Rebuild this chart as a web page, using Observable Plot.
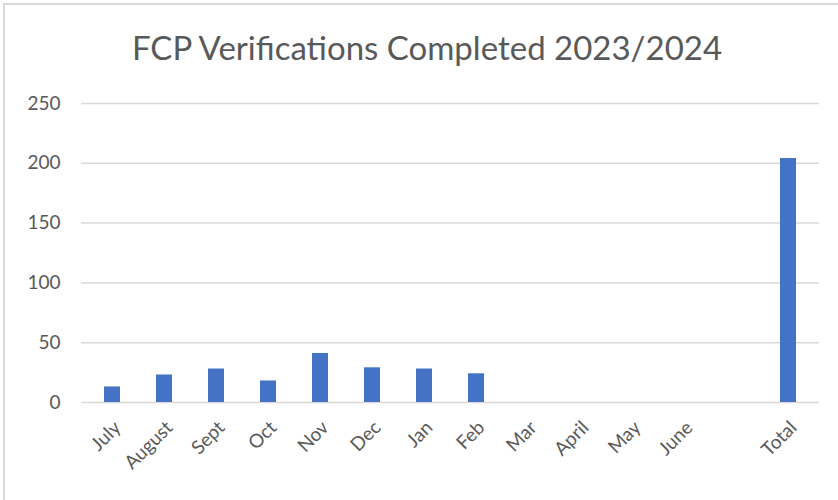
<!DOCTYPE html>
<html>
<head>
<meta charset="utf-8">
<script src="https://cdn.jsdelivr.net/npm/d3@7"></script>
<script src="https://cdn.jsdelivr.net/npm/@observablehq/plot@0.6"></script>
<style>
  html, body { margin: 0; padding: 0; background: #fff; }
  #wrap { position: relative; width: 838px; height: 500px; overflow: hidden; font-family: Lato, "Open Sans", sans-serif; }
  #frame { position: absolute; left: 3px; top: 3px; width: 840px; height: 500px; border-top: 2px solid #d9d9d9; border-left: 2px solid #d9d9d9; pointer-events: none; }
  #title { height: 84px; box-sizing: border-box; padding-top: 27px; line-height: 40px; font-size: 33px; color: #595959; text-align: center; padding-left: 16px; white-space: nowrap; }
  svg { display: block; }
</style>
</head>
<body>
<div id="wrap">
  <div id="title">FCP Verifications Completed 2023/2024</div>
  <div id="chart"></div>
  <div id="frame"></div>
</div>
<script>
const titleText = "FCP Verifications Completed 2023/2024";
const categories = ["July", "August", "Sept", "Oct", "Nov", "Dec", "Jan", "Feb", "Mar", "April", "May", "June", " ", "Total"];
const values = [13, 23, 28, 18, 41, 29, 28, 24, null, null, null, null, null, 204];
const yTicks = [0, 50, 100, 150, 200, 250];

const data = categories.map((c, i) => ({category: c, value: values[i]})).filter(d => d.value != null);

const chart = Plot.plot({
  width: 838,
  height: 416,
  marginTop: 19,
  marginBottom: 98,
  marginLeft: 81,
  marginRight: 19,
  style: {fontFamily: "Lato, 'Open Sans', sans-serif", color: "#595959", background: "#fff"},
  x: {domain: categories, paddingInner: 0.69, paddingOuter: 0.345, label: null},
  y: {domain: [0, 250], ticks: yTicks, label: null},
  marks: [
    Plot.gridY(yTicks, {stroke: "#d9d9d9", strokeOpacity: 1, strokeWidth: 1.5}),
    Plot.barY(data, {x: "category", y: "value", fill: "#4472C4"}),
    Plot.axisY(yTicks, {tickSize: 0, tickPadding: 21, fontSize: 19, fill: "#595959", label: null}),
    Plot.axisX({tickSize: 0, tickPadding: 22, tickRotate: -45, fontSize: 19, fill: "#595959", dx: 5, label: null})
  ]
});
document.getElementById("chart").appendChild(chart);
</script>
</body>
</html>
